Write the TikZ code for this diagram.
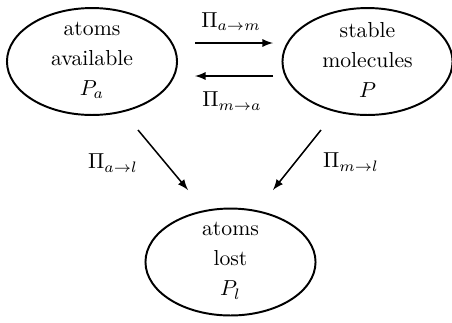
\documentclass[tikz,border=0pt]{standalone}
\usetikzlibrary{shapes.geometric}

\begin{document}
\begin{tikzpicture}[x=0.461pt,y=-0.461pt]

\tikzset{pool/.style={draw, ellipse, line width=0.9pt, inner sep=0pt,
                      minimum width=78.4pt, minimum height=49.3pt},
         rate/.style={line width=0.7pt, -latex}}

\useasboundingbox (0,0) rectangle (452,322);

\def\lift{0.6pt};
\foreach \n/\x/\y/\t in {a/92/61.5/{atoms\\[1.9pt]available\\[1.9pt]$P_a$},
                         m/367.5/61.5/{stable\\[1.9pt]molecules\\[1.9pt]$P$},
                         l/230.5/262/{atoms\\[1.9pt]lost\\[1.9pt]$P_l$}}{
       \node[pool] (\n) at (\x, \y) {};
       \node[align=center] (\n text) at ([yshift=\lift]\n) {\t};
}

% ends of the rate arrows
\coordinate (am1) at (195, 43);
\coordinate (am2) at (273, 43);
\coordinate (ma1) at (273, 76);
\coordinate (ma2) at (195, 76);
\coordinate (al1) at (138, 130);
\coordinate (al2) at (188, 190);
\coordinate (ml1) at (321, 130);
\coordinate (ml2) at (273, 190);

\foreach \s/\e in {am1/am2, ma1/ma2, al1/al2, ml1/ml2}{
       \draw[rate] (\s) -- (\e);
}

\node (pam) at (231, 21.5) {$\Pi_{a\to m}$};
\node (pma) at (232, 101) {$\Pi_{m\to a}$};
\node (pal) at (113, 163) {$\Pi_{a\to l}$};
\node (pml) at (351, 162) {$\Pi_{m\to l}$};

\end{tikzpicture}
\end{document}
